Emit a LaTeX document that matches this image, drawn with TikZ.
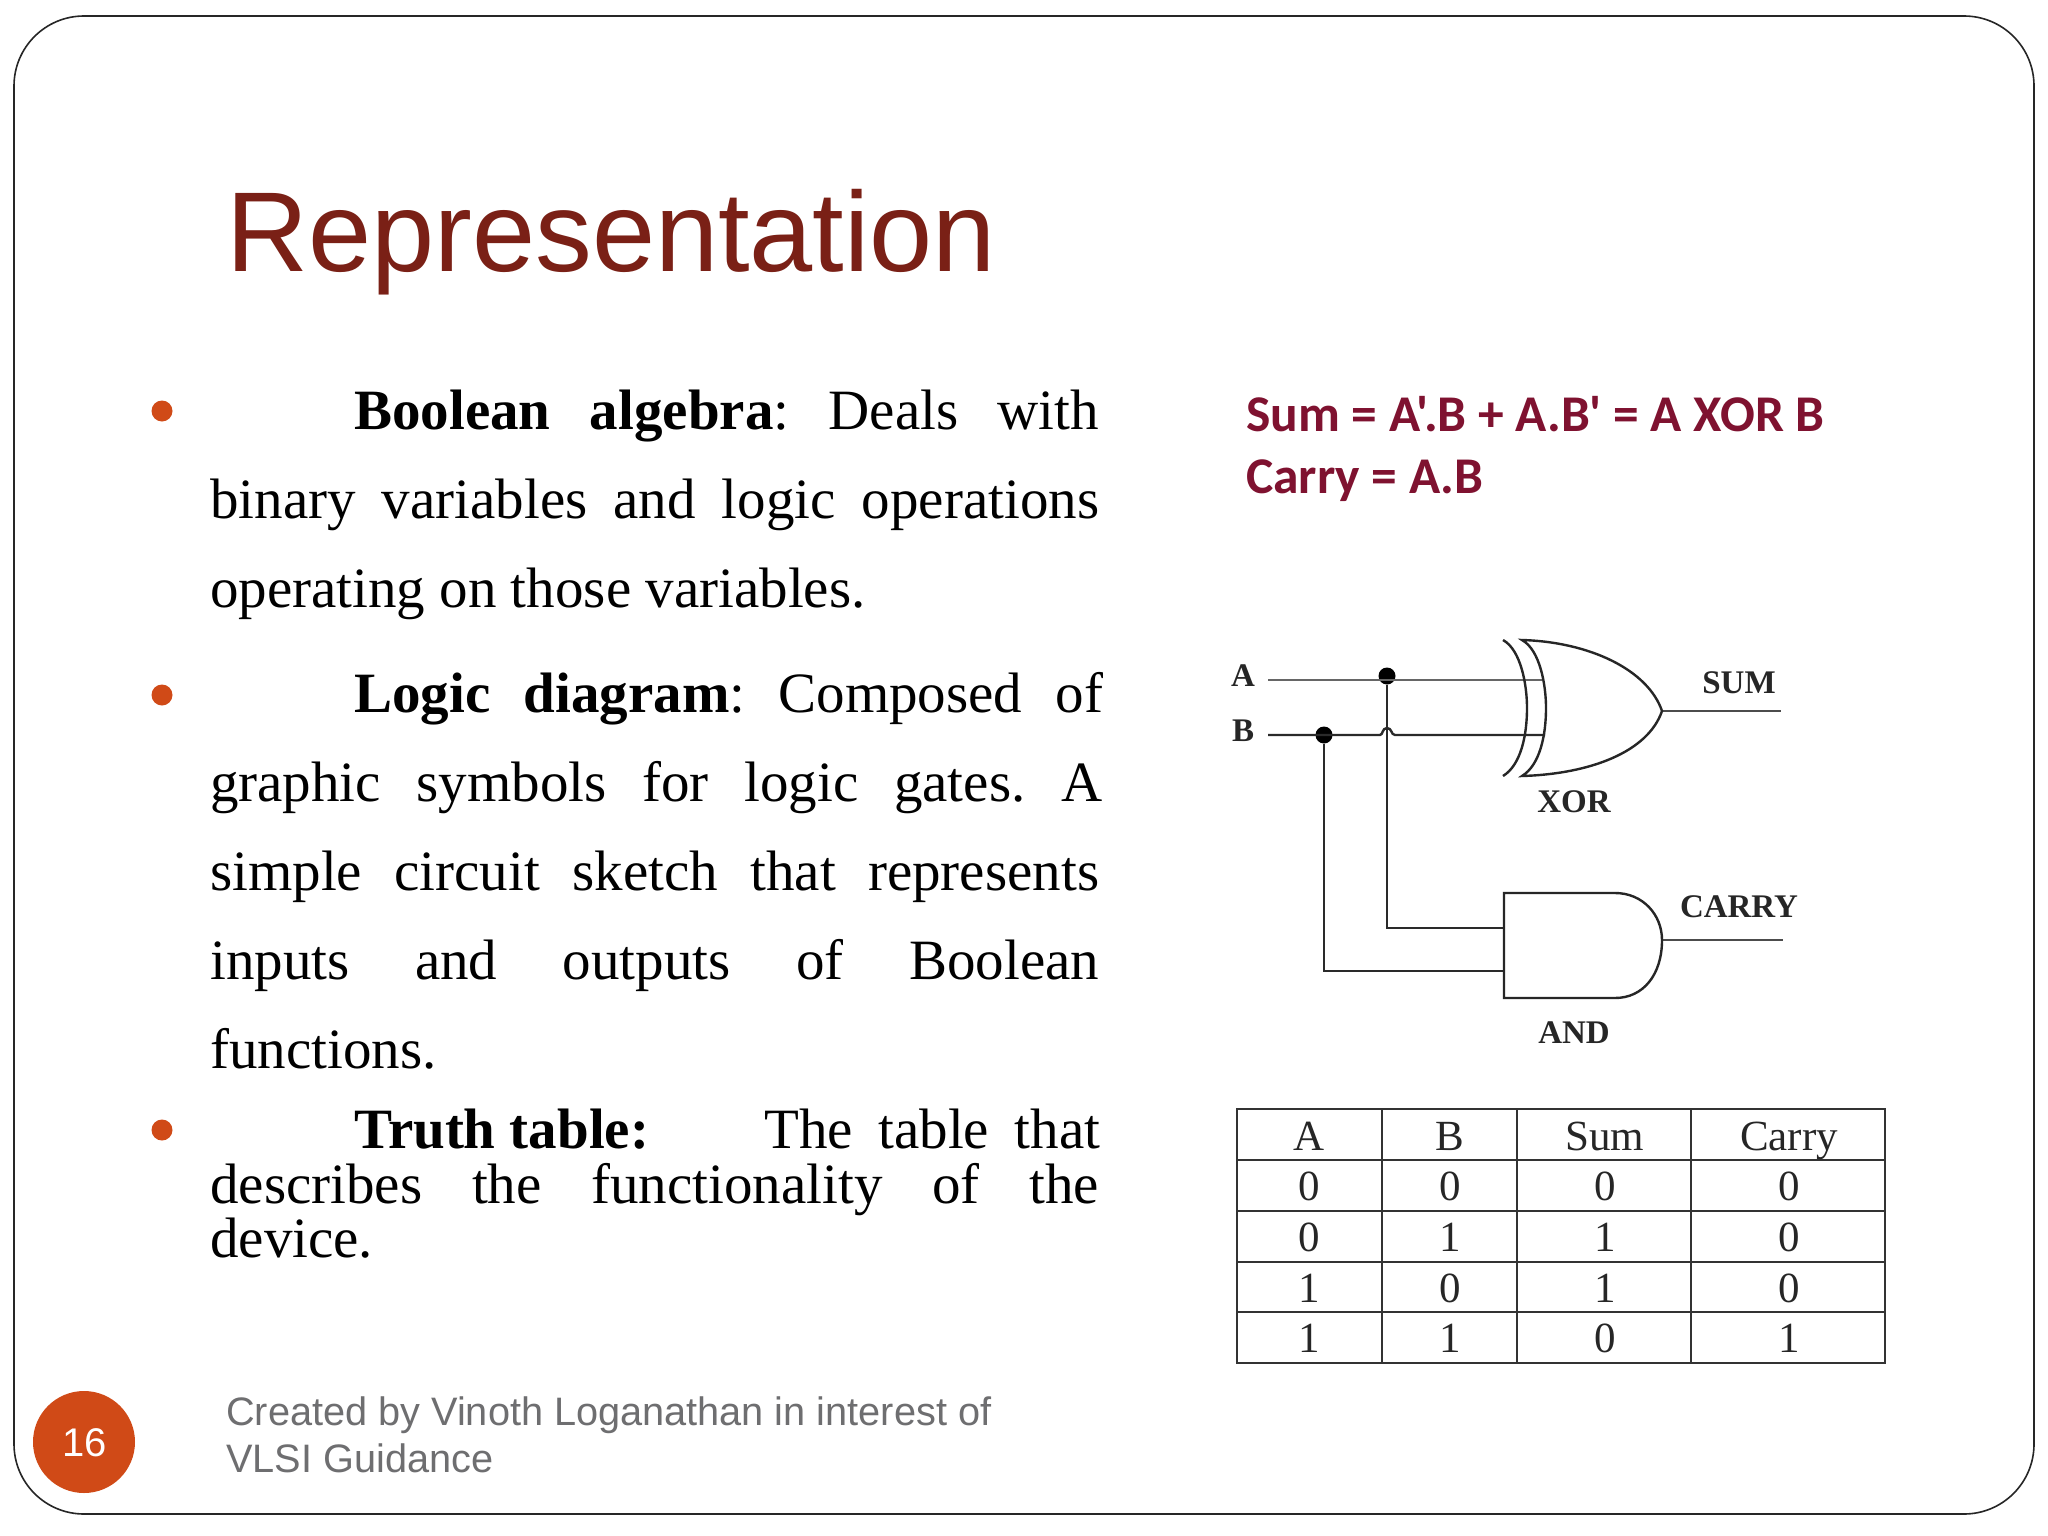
\documentclass[tikz,border=0pt]{standalone}
\usepackage{fontspec}
\setmainfont{Liberation Serif}
\newfontfamily\arialf{Liberation Sans}
\newfontfamily\calif{Carlito}
\frenchspacing
\definecolor{titlered}{HTML}{7A2016}
\definecolor{orangeb}{HTML}{D04A17}
\definecolor{footgrey}{HTML}{6E6E70}
\definecolor{formula}{HTML}{7F1230}
\definecolor{wiregrey}{HTML}{2A2A2A}
\newcommand{\jline}[2]{\makebox[#1][s]{#2}}
\tikzset{
  x=1pt,y=-1pt,
  bodyline/.style={anchor=base west,inner sep=0pt,font=\fontsize{57}{60}\selectfont,text=black},
  bulletdot/.style={circle,fill=orangeb,inner sep=0pt,minimum size=21pt},
  foot/.style={anchor=base west,inner sep=0pt,font=\arialf\fontsize{39.7}{45}\selectfont,text=footgrey},
  formulatext/.style={anchor=base west,inner sep=0pt,font=\calif\bfseries\fontsize{51.5}{54}\selectfont,text=formula},
  gatelabel/.style={inner sep=0pt,anchor=center,font=\bfseries\fontsize{33}{35}\selectfont,text=black!85},
  cell/.style={inner sep=0pt,anchor=base,font=\fontsize{43}{45}\selectfont,text=black!85},
  wire/.style={draw=wiregrey,line width=2.4pt,line join=miter},
  gate/.style={draw=black!85,line width=2.4pt},
  junction/.style={circle,fill=black,inner sep=0pt,minimum size=17pt},
  gridrule/.style={draw=black!80,line width=2pt,line cap=rect}
}
\begin{document}
\begin{tikzpicture}
\useasboundingbox (0,0) rectangle (2048,1536);
\fill[white] (0,0) rectangle (2048,1536);
\draw[black!85,line width=1.6pt,rounded corners=70pt] (14,16) rectangle (2034,1514);

% title
\node[anchor=base west,inner sep=0pt,font=\arialf\fontsize{113.5}{116}\selectfont,text=titlered] (title) at (226,271) {Representation};

% body
\node[bulletdot] (b1) at (162,411) {};
\node[bulletdot] (b2) at (162,695) {};
\node[bulletdot] (b3) at (162,1130) {};
\node[bodyline] (l1) at (354,429) {\jline{745pt}{\textbf{Boolean algebra}: Deals with}};
\node[bodyline] (l2) at (210,518) {\jline{889pt}{binary variables and logic operations}};
\node[bodyline] (l3) at (210,607) {operating on those variables.};
\node[bodyline] (l4) at (354,712) {\jline{749pt}{\textbf{Logic diagram}: Composed of}};
\node[bodyline] (l5) at (210,801) {\jline{892pt}{graphic symbols for logic gates. A}};
\node[bodyline] (l6) at (210,890) {\jline{889pt}{simple circuit sketch that represents}};
\node[bodyline] (l7) at (210,979) {\jline{889pt}{inputs and outputs of Boolean}};
\node[bodyline] (l8) at (210,1068) {functions.};
\node[bodyline] (l9) at (354,1148) {\textbf{Truth table:}};
\node[bodyline] (l9b) at (764,1148) {\jline{336pt}{The table that}};
\node[bodyline] (l10) at (210,1203) {\jline{889pt}{describes the functionality of the}};
\node[bodyline] (l11) at (210,1257) {device.};

% footer
\node[foot] (f1) at (226,1425) {Created by Vinoth Loganathan in interest of};
\node[foot] (f2) at (226,1472) {VLSI Guidance};
\node[circle,fill=orangeb,inner sep=0pt,minimum size=102pt,text=white,font=\arialf\fontsize{40}{45}\selectfont] (pg) at (84,1442) {};
\node[inner sep=0pt,text=white,font=\arialf\fontsize{40}{45}\selectfont] (pgnum) at (85,1443) {16};

% formula
\node[formulatext] (fa) at (1246,431) {Sum = A'.B + A.B' = A XOR B};
\node[formulatext] (fb) at (1246,493) {Carry = A.B};

% logic diagram labels
\node[gatelabel] (A) at (1243,676) {A};
\node[gatelabel] (B) at (1243,731) {B};
\node[gatelabel] (SUM) at (1739,683) {SUM};
\node[gatelabel] (XOR) at (1574,802) {XOR};
\node[gatelabel] (CARRY) at (1739,907) {CARRY};
\node[gatelabel] (AND) at (1574,1033) {AND};

% pins
\coordinate (ain) at (1268,680);
\coordinate (bin) at (1268,735);
\coordinate (axor) at (1542,680);
\coordinate (bxor) at (1545,735);
\coordinate (aand) at (1504,928);
\coordinate (band) at (1504,971);
\coordinate (xorout) at (1662,711);
\coordinate (andout) at (1662,940);
\coordinate (sumend) at (1781,711);
\coordinate (carryend) at (1783,940);
\node[junction] (ja) at (1387,676) {};
\node[junction] (jb) at (1324,735) {};

% wires
\draw[wire,draw=black!60,line width=2.8pt] (ain) -- (axor);
\draw[wire] (bin) -- (1380,735) .. controls (1383,735) and (1382,728) .. (1387,728) .. controls (1392,728) and (1391,735) .. (1395,735) -- (bxor);
\draw[wire] (ja) -- (1387,928) -- (aand);
\draw[wire] (jb) -- (1324,971) -- (band);
\draw[wire,draw=black!70] (xorout) -- (sumend);
\draw[wire,draw=black!70] (andout) -- (carryend);

% XOR gate
\draw[gate] (1503,640) .. controls (1521,650) and (1527,685) .. (1527,708) .. controls (1527,735) and (1521,765) .. (1503,776);
\draw[gate] (1522,640) .. controls (1540,650) and (1546,685) .. (1546,708) .. controls (1546,735) and (1540,765) .. (1522,776) .. controls (1590,774) and (1648,752) .. (xorout) .. controls (1648,670) and (1590,642) .. (1522,640) -- cycle;

% AND gate
\draw[gate] (1504,893) -- (1615,893) .. controls (1643,893) and (1662,915) .. (andout) .. controls (1662,975) and (1643,998) .. (1615,998) -- (1504,998) -- cycle;

% truth table
\foreach \gx in {1237,1382,1517,1691,1885} \draw[gridrule] (\gx,1109) -- (\gx,1363);
\foreach \gy in {1109,1160,1211,1262,1312,1363} \draw[gridrule] (1237,\gy) -- (1885,\gy);
\node[cell] (t00) at (1309,1150) {A};
\node[cell] (t01) at (1450,1150) {B};
\node[cell] (t02) at (1605,1150) {Sum};
\node[cell] (t03) at (1789,1150) {Carry};
\node[cell] (t10) at (1309,1200) {0};
\node[cell] (t11) at (1450,1200) {0};
\node[cell] (t12) at (1605,1200) {0};
\node[cell] (t13) at (1789,1200) {0};
\node[cell] (t20) at (1309,1251) {0};
\node[cell] (t21) at (1450,1251) {1};
\node[cell] (t22) at (1605,1251) {1};
\node[cell] (t23) at (1789,1251) {0};
\node[cell] (t30) at (1309,1302) {1};
\node[cell] (t31) at (1450,1302) {0};
\node[cell] (t32) at (1605,1302) {1};
\node[cell] (t33) at (1789,1302) {0};
\node[cell] (t40) at (1309,1352) {1};
\node[cell] (t41) at (1450,1352) {1};
\node[cell] (t42) at (1605,1352) {0};
\node[cell] (t43) at (1789,1352) {1};
\end{tikzpicture}
\end{document}
